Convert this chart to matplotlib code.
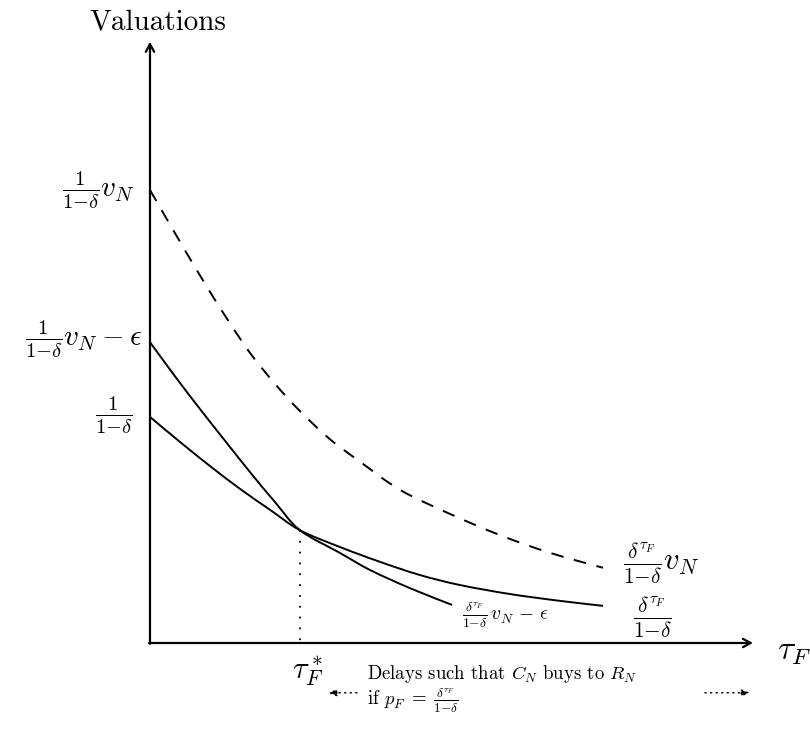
import matplotlib
matplotlib.use("Agg")
import matplotlib.pyplot as plt
from matplotlib.path import Path
from matplotlib.patches import PathPatch

plt.rcParams["mathtext.fontset"] = "cm"
plt.rcParams["font.family"] = "serif"
plt.rcParams["font.serif"] = ["cmr10"]
plt.rcParams["axes.formatter.use_mathtext"] = True

# values (tau_F on x, valuation on y)
dashed_tau = [0, 0.55, 1.10, 1.66, 2.21, 2.76, 3.31, 3.97, 4.64, 5.52, 6.62, 7.73, 8.83, 10.0]
dashed_val = [10.0, 9.05, 8.12, 7.22, 6.40, 5.72, 5.12, 4.50, 4.00, 3.38, 2.85, 2.38, 1.99, 1.66]

steep_tau = [0, 0.55, 1.10, 1.66, 2.21, 2.76, 3.31, 4.19, 4.86, 5.74, 6.67]
steep_val = [6.64, 5.89, 5.17, 4.46, 3.77, 3.11, 2.49, 1.99, 1.61, 1.21, 0.84]

lower_tau = [0, 0.66, 1.32, 1.99, 2.65, 3.31, 4.19, 5.08, 5.96, 6.84, 7.95, 9.05, 10.0]
lower_val = [4.99, 4.44, 3.91, 3.40, 2.94, 2.49, 2.12, 1.79, 1.50, 1.28, 1.08, 0.93, 0.82]

tau_star = 3.31
val_star = 2.49
x_end = 13.31
y_end = 13.27


def smooth_path(xs, ys):
    # bezier through the read points (catmull-rom style handles)
    pts = list(zip(xs, ys))
    verts = [pts[0]]
    codes = [Path.MOVETO]
    n = len(pts)
    for i in range(n - 1):
        p0 = pts[i - 1] if i > 0 else pts[i]
        p1 = pts[i]
        p2 = pts[i + 1]
        p3 = pts[i + 2] if i + 2 < n else pts[i + 1]
        c1 = (p1[0] + (p2[0] - p0[0]) / 6, p1[1] + (p2[1] - p0[1]) / 6)
        c2 = (p2[0] - (p3[0] - p1[0]) / 6, p2[1] - (p3[1] - p1[1]) / 6)
        verts += [c1, c2, p2]
        codes += [Path.CURVE4] * 3
    return Path(verts, codes)


fig = plt.figure(figsize=(8.1, 7.33), dpi=100)
ax = fig.add_axes([0, 0, 1, 1])
ax.set_xlim(-3.311, 14.570)
ax.set_ylim(-1.987, 14.194)
ax.axis("off")

# axes with arrows
arrow = dict(arrowstyle="->,head_length=0.55,head_width=0.3", lw=1.6,
             color="black", shrinkA=0, shrinkB=0)
ax.annotate("", xy=(0, y_end), xytext=(0, -0.02), arrowprops=arrow)
ax.annotate("", xy=(x_end, 0), xytext=(-0.02, 0), arrowprops=arrow)

# curves
ax.add_patch(PathPatch(smooth_path(dashed_tau, dashed_val), fill=False,
                       edgecolor="black", lw=1.4, ls=(0, (6.5, 5.5))))
ax.add_patch(PathPatch(smooth_path(steep_tau, steep_val), fill=False,
                       edgecolor="black", lw=1.4))
ax.add_patch(PathPatch(smooth_path(lower_tau, lower_val), fill=False,
                       edgecolor="black", lw=1.4))
ax.plot([tau_star, tau_star], [val_star, 0], color="black", lw=1.3,
        ls=(0, (1, 5)))

# texts
ax.text(0.18, 13.71, "Valuations", fontsize=21, ha="center", va="center")
ax.text(-0.33, 10.0, r"$\frac{1}{1{-}\delta}v_N$", fontsize=21, ha="right", va="center")
ax.text(-0.18, 6.70, r"$\frac{1}{1{-}\delta}v_N-\epsilon$", fontsize=21, ha="right", va="center")
ax.text(-0.38, 5.02, r"$\frac{1}{1{-}\delta}$", fontsize=21, ha="right", va="center")

ax.text(10.45, 1.77, r"$\frac{\delta^{\tau_F}}{1{-}\delta}v_N$", fontsize=22, ha="left", va="center")
ax.text(10.66, 0.57, r"$\frac{\delta^{\tau_F}}{1{-}\delta}$", fontsize=22, ha="left", va="center")
ax.text(6.89, 0.62, r"$\frac{\delta^{\tau_F}}{1{-}\delta}\,v_N\,-\,\epsilon$", fontsize=14,
        ha="left", va="center")

ax.text(13.84, -0.2, r"$\tau_F$", fontsize=24, ha="left", va="center")
ax.text(3.48, -0.64, r"$\tau_F^*$", fontsize=22, ha="center", va="center")

ax.text(4.79, -0.68, r"Delays such that $C_N$ buys to $R_N$", fontsize=13.5,
        ha="left", va="center")
ax.text(4.79, -1.27, r"if $p_F\;=\;\frac{\delta^{\tau_F}}{1{-}\delta}$", fontsize=13.5,
        ha="left", va="center")

dots = dict(arrowstyle="-|>,head_length=0.5,head_width=0.2", lw=1.0,
            color="black", ls=(0, (1, 3)), shrinkA=0, shrinkB=0)
ax.annotate("", xy=(3.93, -1.10), xytext=(4.57, -1.10), arrowprops=dots)
ax.annotate("", xy=(13.25, -1.10), xytext=(12.25, -1.10), arrowprops=dots)

fig.savefig("out.png", dpi=100)
